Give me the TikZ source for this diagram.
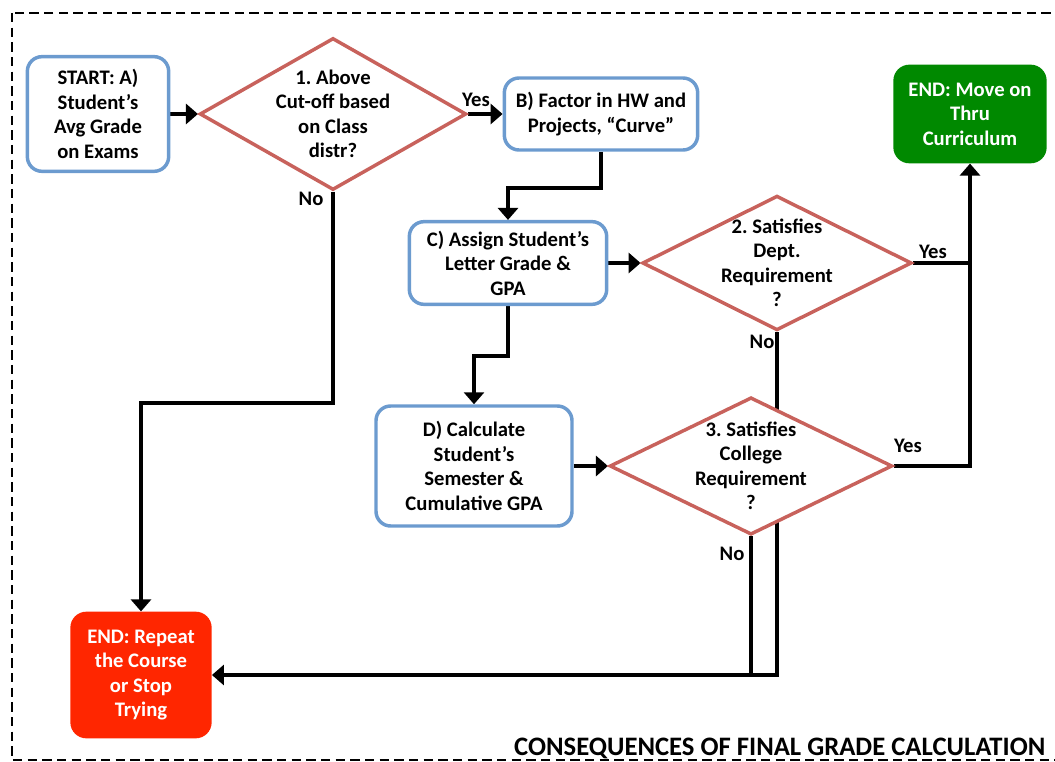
\documentclass[tikz,border=0pt]{standalone}
\usepackage{fontspec}
\setmainfont{Carlito}
\frenchspacing
\usetikzlibrary{shapes.geometric}
\usetikzlibrary{arrows.meta}
\usetikzlibrary{positioning}
\usetikzlibrary{backgrounds}

\definecolor{boxblue}{RGB}{108,155,207}
\definecolor{diared}{RGB}{200,98,92}
\definecolor{endgreen}{RGB}{0,137,0}
\definecolor{endred}{RGB}{255,38,0}

\tikzset{
  txt/.style={font=\bfseries\fontsize{15.5}{18.4}\selectfont},
  proc/.style={txt, rectangle, rounded corners=11pt, draw=boxblue, line width=2.6pt,
    fill=white, align=center, inner sep=1pt},
  decide/.style={diamond, draw=diared, line width=2.6pt, fill=white, inner sep=0pt},
  term/.style={txt, rectangle, rounded corners=12pt, align=center, text=white, inner sep=1pt},
  wire/.style={line width=3pt, black},
  arr/.style={wire, -{Triangle[length=9pt,width=15pt]}},
  frame/.style={line width=1.7pt, dash pattern=on 7pt off 4pt}
}

\begin{document}
\begin{tikzpicture}[x=0.75pt, y=-0.75pt]
\useasboundingbox (0,0) rectangle (1055,762);
\draw[frame] (12,13) rectangle (1075,760);

% boxes
\node[proc, minimum width=106pt, minimum height=86pt] (start) at (98,114)
  {START: A)\\Student’s\\Avg Grade\\on Exams};
\node[decide, minimum width=200pt, minimum height=114pt,
  label={[txt, align=center]center:1. Above\\Cut-off based\\on Class\\distr?}] (q1) at (333,114) {};
\node[proc, minimum width=145pt, minimum height=54pt] (curve) at (601,114)
  {B) Factor in HW and\\Projects, “Curve”};
\node[proc, minimum width=148pt, minimum height=62pt] (letter) at (508,263)
  {C) Assign Student’s\\Letter Grade \&\\GPA};
\node[decide, minimum width=202pt, minimum height=101pt,
  label={[txt, align=center]center:2. Satisfies\\Dept.\\Requirement\\?}] (q2) at (777,263) {};
\node[proc, minimum width=147pt, minimum height=90pt] (gpa) at (474,466)
  {D) Calculate\\Student’s\\Semester \&\\Cumulative GPA};
\node[decide, minimum width=212pt, minimum height=103pt,
  label={[txt, align=center]center:3. Satisfies\\College\\Requirement\\?}] (q3) at (751,466) {};
\node[term, fill=endgreen, minimum width=115pt, minimum height=74pt] (pass) at (970,114)
  {END: Move on\\Thru\\Curriculum};
\node[term, fill=endred, minimum width=106pt, minimum height=95pt] (fail) at (141,675)
  {END: Repeat\\the Course\\or Stop\\Trying};

% yes / no
\node[txt] (yes1) at (476,100) {Yes};
\node[txt] (no1) at (311,199) {No};
\node[txt] (yes2) at (933,252) {Yes};
\node[txt] (no2) at (762,342) {No};
\node[txt] (yes3) at (908,446) {Yes};
\node[txt] (no3) at (732,554) {No};

\node[font=\bfseries\fontsize{20}{24}\selectfont, anchor=base east] (title) at (1050,755)
  {CONSEQUENCES OF FINAL GRADE CALCULATION};

\begin{scope}[on background layer]
\draw[arr] (start.east) -- (q1.west);
\draw[arr] (q1.east) -- (curve.west);
\draw[arr] (curve.south) -- ++(0,36) -| (letter.north);
\draw[arr] (letter.east) -- (q2.west);
\draw[arr] (letter.south) -- ++(0,50) -| (gpa.north);
\draw[arr] (gpa.east) -- (q3.west);
\draw[wire] (q2.east) -- (q2.east -| pass.south);
\draw[arr] (q3.east) -| (pass.south);
\draw[arr] (q1.south) -- ++(0,211) -| (fail.north);
\draw[arr] (q2.south) |- (fail.east);
\draw[wire] (q3.south) -- (q3.south |- fail.east);
\end{scope}
\end{tikzpicture}
\end{document}
